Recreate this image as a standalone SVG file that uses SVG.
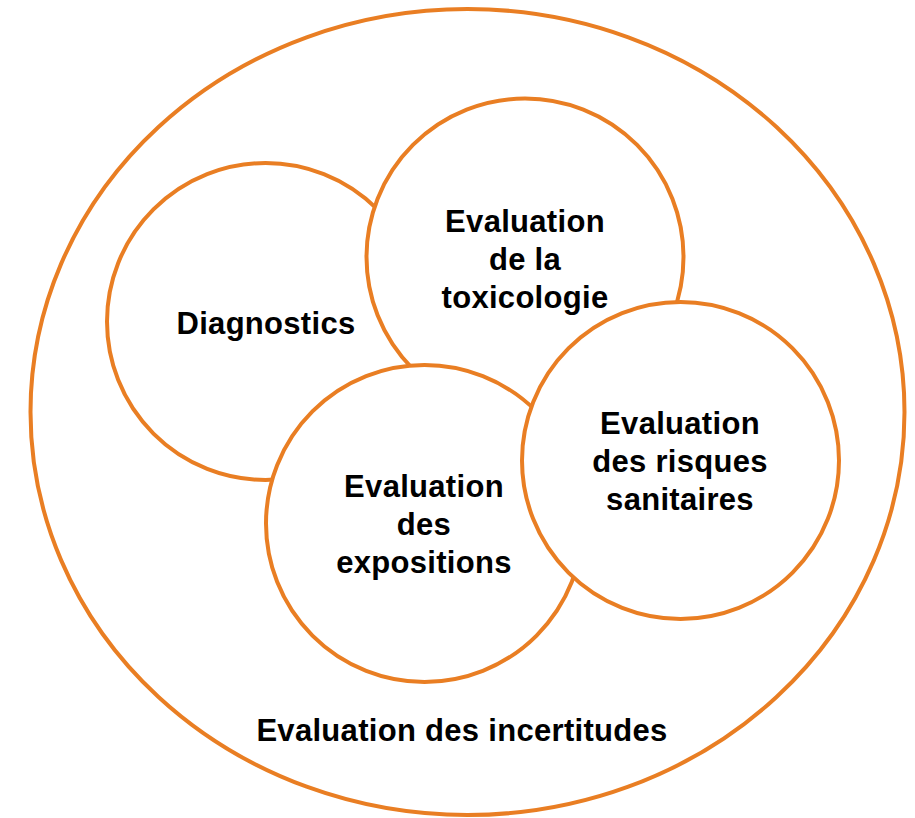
<svg xmlns="http://www.w3.org/2000/svg" width="915" height="818" viewBox="0 0 915 818">
  <style>
    .ring { fill: #FFFFFF; stroke: #E97E23; stroke-width: 4; }
    .lbl { font-family: "Liberation Sans", Arial, sans-serif; font-weight: bold; font-size: 31px; fill: #000000; text-anchor: middle; letter-spacing: 0.3px; }
  </style>
  <rect width="915" height="818" fill="#FFFFFF"/>
  <g id="incertitudes">
    <ellipse class="ring" cx="467.5" cy="412" rx="437" ry="403"/>
    <text class="lbl" x="462" y="741">Evaluation des incertitudes</text>
  </g>
  <g id="diagnostics">
    <circle class="ring" cx="265.5" cy="321.5" r="158.5"/>
    <text class="lbl" x="266" y="334">Diagnostics</text>
  </g>
  <g id="toxicologie">
    <circle class="ring" cx="525" cy="257" r="158.5"/>
    <text class="lbl" x="525" y="232">Evaluation</text>
    <text class="lbl" x="525" y="270">de la</text>
    <text class="lbl" x="525" y="308">toxicologie</text>
  </g>
  <g id="expositions">
    <circle class="ring" cx="424.5" cy="523.5" r="158.5"/>
    <text class="lbl" x="424" y="497">Evaluation</text>
    <text class="lbl" x="424" y="535">des</text>
    <text class="lbl" x="424" y="573">expositions</text>
  </g>
  <g id="risques">
    <circle class="ring" cx="680.5" cy="460.5" r="158.5"/>
    <text class="lbl" x="680" y="434">Evaluation</text>
    <text class="lbl" x="680" y="472">des risques</text>
    <text class="lbl" x="680" y="510">sanitaires</text>
  </g>
  <g id="connectors"/>
</svg>
